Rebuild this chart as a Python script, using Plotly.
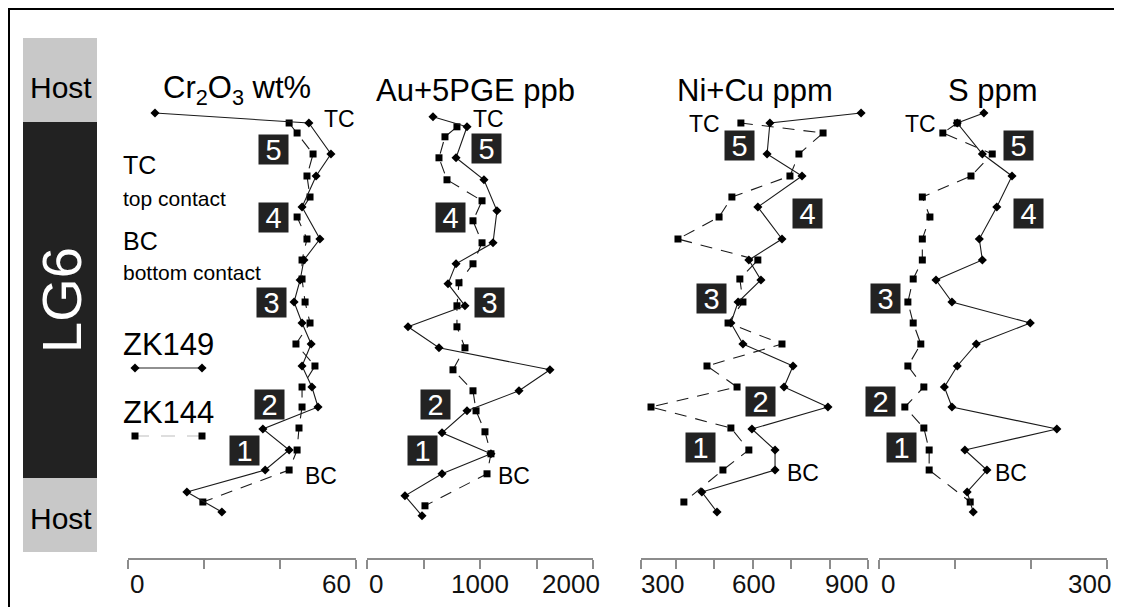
import plotly.graph_objects as go

# ---------------- data ----------------
# relative depth (arbitrary units, downwards) of the samples in each drill hole
zk149_depth = [7.5, 8.5, 11.6, 13.8, 16.9, 20.1, 22.2, 24.2, 26.4, 28.5,
               30.6, 32.8, 34.9, 36.9, 39.1, 41.2, 43.2, 45.4, 47.4]
zk144_depth = [8.5, 9.5, 11.6, 13.8, 15.9, 17.9, 20.1, 22.2, 24.1, 26.4,
               28.5, 30.6, 32.8, 34.9, 36.9, 39.0, 41.2, 43.2, 46.4]

zk149_cr2o3 = [7.1, 47.6, 53.4, 49.5, 45.8, 50.5, 46.3, 45.3, 43.7, 45.8,
               48.2, 45.8, 48.4, 50.0, 35.5, 42.4, 36.1, 15.5, 24.7]
zk144_cr2o3 = [42.4, 44.5, 48.7, 47.1, 47.9, 44.5, 47.1, 45.8, 45.8, 46.6,
               47.9, 44.2, 49.2, 45.8, 45.8, 45.0, 44.5, 42.4, 19.7]

zk149_pge = [584, 885, 788, 1035, 1150, 1115, 788, 717, 867, 363,
             637, 1619, 1345, 885, 664, 1097, 664, 336, 487]
zk144_pge = [796, 690, 637, 708, 1018, 938, 1018, 938, 814, 796,
             796, 867, 761, 938, 965, 1044, 1097, 1062, 513]

zk149_nicu = [1021, 666, 655, 791, 619, 713, 584, 631, 542, 514,
              561, 756, 721, 892, 596, 686, 686, 401, 460]
zk144_nicu = [553, 873, 779, 744, 518, 468, 308, 619, 549, 561,
              503, 713, 421, 538, 203, 514, 584, 483, 331]

zk149_s = [138, 103, 136, 175, 155, 132, 136, 75, 96, 199,
           128, 103, 86, 96, 234, 113, 142, 116, 124]
zk144_s = [103, 84, 149, 121, 57, 67, 57, 57, 45, 38,
           45, 55, 38, 59, 34, 59, 66, 66, 120]

panel_titles = ["Cr<sub>2</sub>O<sub>3</sub> wt%", "Au+5PGE ppb", "Ni+Cu ppm", "S ppm"]
x_ranges = [[0, 60], [0, 2000], [164, 1048], [0, 300]]
x_tickvals = [[0, 20, 40, 60], [0, 500, 1000, 1500, 2000],
              [164, 300, 450, 600, 750, 900, 1048], [0, 100, 200, 300]]
x_ticklabels = [["0", "60"], ["0", "1000", "2000"], ["300", "600", "900"], ["0", "300"]]
x_ticklabel_vals = [[0, 60], [0, 1000, 2000], [300, 600, 900], [0, 300]]
unit_labels = ["1", "2", "3", "4", "5"]
hole_names = ["ZK149", "ZK144"]

# ---------------- layout helpers ----------------
OFF = 8  # page body margin of the browser
W, H = 1122 - 2 * OFF, 615 - 2 * OFF


def px(x):
    return (x - OFF) / W


def py(y):
    return 1 - (y - OFF) / H


FONT = "Arial, Liberation Sans, Helvetica, sans-serif"
x_dom_px = [(128, 356), (367, 593), (641, 868), (879, 1107)]
y_top, y_bot = 38, 558

fig = go.Figure()

series = [
    (zk149_cr2o3, zk144_cr2o3),
    (zk149_pge, zk144_pge),
    (zk149_nicu, zk144_nicu),
    (zk149_s, zk144_s),
]

for i, (s149, s144) in enumerate(series):
    xa = "x" if i == 0 else f"x{i + 1}"
    ya = "y2" if i == 1 else "y"
    fig.add_trace(go.Scatter(
        x=s144, y=zk144_depth, xaxis=xa, yaxis=ya, mode="lines+markers",
        line=dict(color="#1a1a1a", width=1.1, dash="12px,9px"),
        marker=dict(symbol="square", size=7, color="#000"),
        showlegend=False, hoverinfo="skip"))
    fig.add_trace(go.Scatter(
        x=s149, y=zk149_depth, xaxis=xa, yaxis=ya, mode="lines+markers",
        line=dict(color="#1a1a1a", width=1.1),
        marker=dict(symbol="diamond", size=7, color="#000"),
        showlegend=False, hoverinfo="skip"))

# legend samples on a page-pixel overlay axis
fig.add_trace(go.Scatter(x=[135, 202], y=[368, 368], xaxis="x5", yaxis="y5",
                         mode="lines+markers", line=dict(color="#222", width=1.1),
                         marker=dict(symbol="diamond", size=7, color="#000"),
                         showlegend=False, hoverinfo="skip"))
fig.add_trace(go.Scatter(x=[135, 202], y=[436, 436], xaxis="x5", yaxis="y5",
                         mode="lines+markers", line=dict(color="#bdbdbd", width=1.1, dash="14px,12px"),
                         marker=dict(symbol="square", size=7, color="#000"),
                         showlegend=False, hoverinfo="skip"))

axis_common = dict(showgrid=False, zeroline=False, showline=True, linecolor="#8c8c8c",
                   linewidth=2, ticks="outside", ticklen=9, tickwidth=2, tickcolor="#8c8c8c",
                   showticklabels=False, fixedrange=True)

layout = dict(
    width=W, height=H, margin=dict(l=0, r=0, t=0, b=0),
    paper_bgcolor="white", plot_bgcolor="rgba(0,0,0,0)",
    showlegend=False,
    yaxis=dict(domain=[py(y_bot), py(y_top)], range=[52, 0], visible=False, fixedrange=True),
    yaxis2=dict(domain=[py(y_bot), py(y_top)], range=[51.62, -0.38], visible=False,
                fixedrange=True, anchor="x2"),
    xaxis5=dict(domain=[0, 1], range=[OFF, W + OFF], visible=False, anchor="y5", fixedrange=True),
    yaxis5=dict(domain=[0, 1], range=[H + OFF, OFF], visible=False, anchor="x5", fixedrange=True),
)
for i in range(4):
    key = "xaxis" if i == 0 else f"xaxis{i + 1}"
    d = dict(axis_common)
    d.update(domain=[px(x_dom_px[i][0]), px(x_dom_px[i][1])], range=x_ranges[i],
             tickvals=x_tickvals[i], anchor="y2" if i == 1 else "y")
    layout[key] = d
fig.update_layout(**layout)

shapes = []
# outer frame
shapes.append(dict(type="rect", xref="paper", yref="paper", x0=px(9), x1=px(1140), y0=py(640), y1=py(9),
                   line=dict(color="#000", width=2), fillcolor="rgba(0,0,0,0)", layer="above"))
# stratigraphic column
shapes.append(dict(type="rect", xref="paper", yref="paper", x0=px(23), x1=px(97), y0=py(122), y1=py(38),
                   line=dict(width=0), fillcolor="#c8c8c8", layer="below"))
shapes.append(dict(type="rect", xref="paper", yref="paper", x0=px(23), x1=px(97), y0=py(478), y1=py(122),
                   line=dict(width=0), fillcolor="#222222", layer="below"))
shapes.append(dict(type="rect", xref="paper", yref="paper", x0=px(23), x1=px(97), y0=py(552), y1=py(478),
                   line=dict(width=0), fillcolor="#c8c8c8", layer="below"))
fig.update_layout(shapes=shapes)

ann = []


def text(x, y, s, size, color="#000", xanchor="center", yanchor="middle", **kw):
    ann.append(dict(x=px(x), y=py(y), xref="paper", yref="paper", text=s, showarrow=False,
                    xanchor=xanchor, yanchor=yanchor,
                    font=dict(family=FONT, size=size, color=color), **kw))


text(61, 87, "Host", 30)
text(61, 518, "Host", 30)
text(61, 300, "LG6", 56, color="#fff", textangle=-90)

# left-side key
text(121, 165, "TC", 25, xanchor="left")
text(121, 198, "top contact", 21, xanchor="left")
text(121, 241, "BC", 25, xanchor="left")
text(121, 272, "bottom contact", 21, xanchor="left")
text(121, 344, hole_names[0], 31, xanchor="left")
text(121, 412, hole_names[1], 31, xanchor="left")

# panel titles
title_x = [237, 475, 755, 993]
for t, xc in zip(panel_titles, title_x):
    text(xc, 90, t, 31)

# TC / BC labels
tc_pos = [(339, 119), (488, 119), (704, 124), (920, 124)]
bc_pos = [(321, 476), (514, 476), (803, 473), (1011, 473)]
for (x, y) in tc_pos:
    text(x, y, "TC", 23)
for (x, y) in bc_pos:
    text(x, y, "BC", 23)

# numbered units
unit_pos = [
    [(244, 450), (269, 404), (271, 302), (273, 218), (273, 150)],
    [(422, 450), (435, 404), (489, 302), (450, 218), (486, 149)],
    [(700, 447), (760, 401), (711, 298), (807, 214), (739, 146)],
    [(901, 447), (880, 401), (886, 298), (1028, 214), (1018, 146)],
]
for panel in unit_pos:
    for lab, (x, y) in zip(unit_labels, panel):
        text(x, y, lab, 29, color="#fff", bgcolor="#222222", width=29, height=29, borderpad=0)

# tick labels (tied to the axis values)
shift = [
    [("left", 0), ("right", -3)],
    [("left", 0), ("center", 0), ("center", -22)],
    [("center", -13), ("center", 1), ("center", 16)],
    [("left", 0), ("right", 6)],
]
for i in range(4):
    xr = "x" if i == 0 else f"x{i + 1}"
    for lab, val, (anc, sh) in zip(x_ticklabels[i], x_ticklabel_vals[i], shift[i]):
        ann.append(dict(x=val, y=py(584), xref=xr, yref="paper", text=lab, showarrow=False,
                        xanchor=anc, yanchor="middle", xshift=sh,
                        font=dict(family=FONT, size=26, color="#111")))

fig.update_layout(annotations=ann)
fig.write_html("out.html")
